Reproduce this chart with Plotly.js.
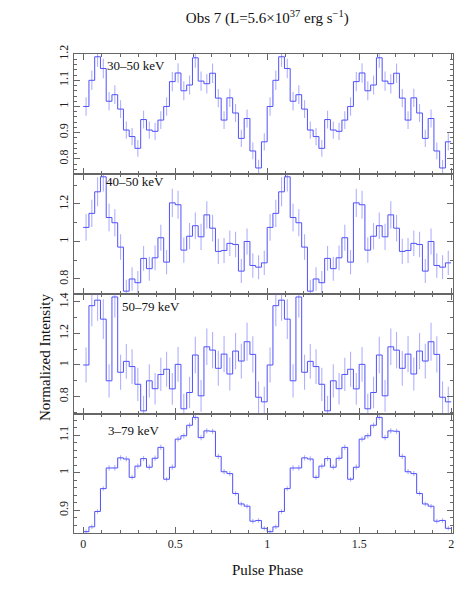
<!DOCTYPE html>
<html>
<head>
<meta charset="utf-8">
<script src="https://cdn.plot.ly/plotly-3.0.1.min.js"></script>
<style>
  html, body { margin: 0; padding: 0; background: #fff; }
  #myDiv { width: 463px; height: 607px; }
</style>
</head>
<body>
<div id="myDiv"></div>
<script>
// 32 phase bins per cycle, the plot shows two cycles
var nBins = 32;
var bands = ['30–50 keV', '40–50 keV', '50–79 keV', '3–79 keV'];

var rate3050 = [1.00, 1.10, 1.19, 1.145, 1.02, 1.045, 0.99, 0.91, 0.885, 0.84, 0.95, 0.91,
  0.905, 0.948, 1.00, 1.095, 1.128, 1.06, 1.082, 1.186, 1.097, 1.087, 1.127, 1.032,
  0.948, 1.033, 0.975, 0.878, 0.954, 0.83, 0.765, 0.865];
var err3050 = [0.035, 0.037, 0.038, 0.037, 0.035, 0.036, 0.034, 0.033, 0.033, 0.032, 0.034, 0.033,
  0.033, 0.034, 0.035, 0.037, 0.037, 0.036, 0.036, 0.038, 0.037, 0.037, 0.037, 0.035,
  0.034, 0.035, 0.034, 0.033, 0.034, 0.032, 0.031, 0.033];

var rate4050 = [1.075, 1.15, 1.265, 1.345, 1.128, 1.10, 0.97, 0.735, 0.80, 0.78, 0.91, 0.855,
  0.913, 1.02, 0.89, 1.206, 1.196, 0.954, 1.028, 1.084, 1.025, 1.142, 1.071, 0.947,
  0.952, 0.99, 0.984, 0.842, 1.00, 0.872, 0.863, 0.886];
var err4050 = [0.071, 0.073, 0.077, 0.079, 0.073, 0.072, 0.068, 0.061, 0.063, 0.062, 0.066, 0.064,
  0.066, 0.069, 0.065, 0.075, 0.075, 0.067, 0.070, 0.071, 0.070, 0.073, 0.071, 0.067,
  0.067, 0.068, 0.068, 0.064, 0.069, 0.065, 0.064, 0.065];

var rate5079 = [1.00, 1.375, 1.41, 1.29, 0.90, 1.43, 0.954, 1.023, 0.99, 0.878, 0.71, 0.90,
  0.85, 0.94, 0.973, 0.849, 1.004, 0.723, 0.826, 1.063, 0.805, 1.115, 1.094, 0.979,
  1.069, 0.943, 1.088, 1.025, 1.147, 1.067, 0.796, 0.767];
var err5079 = [0.11, 0.13, 0.13, 0.125, 0.105, 0.13, 0.11, 0.11, 0.11, 0.105, 0.095, 0.105,
  0.10, 0.105, 0.11, 0.10, 0.11, 0.095, 0.10, 0.115, 0.10, 0.115, 0.115, 0.11,
  0.115, 0.105, 0.115, 0.11, 0.12, 0.115, 0.10, 0.095];

var rate379 = [0.843, 0.856, 0.897, 0.958, 1.013, 1.013, 1.04, 1.037, 0.988, 1.018, 1.038, 1.015,
  1.039, 1.068, 0.983, 1.015, 1.09, 1.099, 1.127, 1.148, 1.094, 1.112, 1.111, 1.044,
  1.003, 0.998, 0.945, 0.917, 0.911, 0.871, 0.873, 0.852];
var err379 = [0.006, 0.006, 0.006, 0.006, 0.007, 0.007, 0.007, 0.007, 0.006, 0.007, 0.007, 0.007,
  0.007, 0.007, 0.006, 0.007, 0.007, 0.007, 0.007, 0.007, 0.007, 0.007, 0.007, 0.007,
  0.007, 0.007, 0.006, 0.006, 0.006, 0.006, 0.006, 0.006];

var rates = [rate3050, rate4050, rate5079, rate379];
var errs = [err3050, err4050, err5079, err379];

var yRanges = [[0.742, 1.2005], [0.72, 1.36], [0.69, 1.449], [0.8395, 1.157]];
var yTicks = [0.1, 0.2, 0.2, 0.1];
var yMinor = [0.02, 0.1, 0.1, 0.02];
var yDomains = [[0.7495, 1], [0.499, 0.7495], [0.2484, 0.499], [0, 0.2484]];
var labelPos = [[0.082, 0.908], [0.08, 0.94], [0.122, 0.894], [0.084, 0.86]];

var stepColor = 'rgb(80,80,250)';
var errColor = 'rgba(100,100,255,0.5)';
var axisColor = '#666';
var font = 'Liberation Serif, Times New Roman, serif';

var data = [];
var layout = {
  width: 463, height: 607,
  margin: {l: 74, r: 10, t: 54, b: 74},
  paper_bgcolor: '#fff', plot_bgcolor: '#fff',
  showlegend: false,
  font: {family: font, size: 12, color: '#222'},
  title: {
    text: 'Obs 7 (L=5.6×10<sup>37</sup> erg s<sup>−1</sup>)',
    font: {family: font, size: 15, color: '#111'},
    xref: 'paper', x: 0.51, xanchor: 'center',
    yref: 'container', y: 1 - 18 / 607, yanchor: 'middle'
  },
  annotations: []
};

for (var p = 0; p < 4; p++) {
  var n = p + 1;
  var xa = n === 1 ? 'x' : 'x' + n;
  var ya = n === 1 ? 'y' : 'y' + n;

  // step outline (two cycles) and error bars at bin centres
  var sx = [], sy = [], cx = [], cy = [], ce = [];
  for (var i = 0; i < 2 * nBins; i++) {
    var v = rates[p][i % nBins];
    sx.push(i / nBins); sy.push(v);
    cx.push((i + 0.5) / nBins); cy.push(v); ce.push(errs[p][i % nBins]);
  }
  sx.push(2); sy.push(rates[p][nBins - 1]);

  data.push({
    x: cx, y: cy, xaxis: xa, yaxis: ya, type: 'scatter', mode: 'markers',
    marker: {size: 1, color: 'rgba(0,0,0,0)'},
    error_y: {type: 'data', array: ce, visible: true, color: errColor, thickness: 1.1, width: 0},
    hoverinfo: 'skip'
  });
  data.push({
    x: sx, y: sy, xaxis: xa, yaxis: ya, type: 'scatter', mode: 'lines',
    line: {shape: 'hv', color: stepColor, width: 1}
  });

  layout['xaxis' + (n === 1 ? '' : n)] = {
    anchor: ya, range: [-0.05, 2.01], dtick: 0.5, tick0: 0,
    ticks: 'inside', ticklen: 6, tickcolor: axisColor, tickwidth: 1,
    showline: true, linecolor: axisColor, mirror: 'ticks',
    minor: {dtick: 0.1, ticks: 'inside', ticklen: 3, tickcolor: axisColor},
    showgrid: false, zeroline: false,
    showticklabels: n === 4,
    tickfont: {family: font, size: 12, color: '#222'}
  };
  layout['yaxis' + (n === 1 ? '' : n)] = {
    anchor: xa, domain: yDomains[p], range: yRanges[p], dtick: yTicks[p], tick0: 0,
    tickangle: -90,
    ticks: 'inside', ticklen: 6, tickcolor: axisColor, tickwidth: 1,
    showline: true, linecolor: axisColor, mirror: 'ticks',
    minor: {dtick: yMinor[p], ticks: 'inside', ticklen: 3, tickcolor: axisColor},
    showgrid: false, zeroline: false,
    tickfont: {family: font, size: 12, color: '#222'}
  };

  layout.annotations.push({
    text: bands[p], showarrow: false,
    xref: xa + ' domain', yref: ya + ' domain',
    x: labelPos[p][0], y: labelPos[p][1], xanchor: 'left', yanchor: 'middle',
    font: {family: font, size: 13, color: '#111'}
  });
}

layout.annotations.push({
  text: 'Normalized Intensity', showarrow: false, textangle: -90,
  xref: 'paper', yref: 'paper', x: -0.077, y: 0.367,
  xanchor: 'center', yanchor: 'middle',
  font: {family: font, size: 15, color: '#111'}
});
layout.annotations.push({
  text: 'Pulse Phase', showarrow: false,
  xref: 'paper', yref: 'paper', x: 0.512, y: -0.077,
  xanchor: 'center', yanchor: 'middle',
  font: {family: font, size: 15, color: '#111'}
});

Plotly.newPlot('myDiv', data, layout, {displayModeBar: false, staticPlot: true});
</script>
</body>
</html>
